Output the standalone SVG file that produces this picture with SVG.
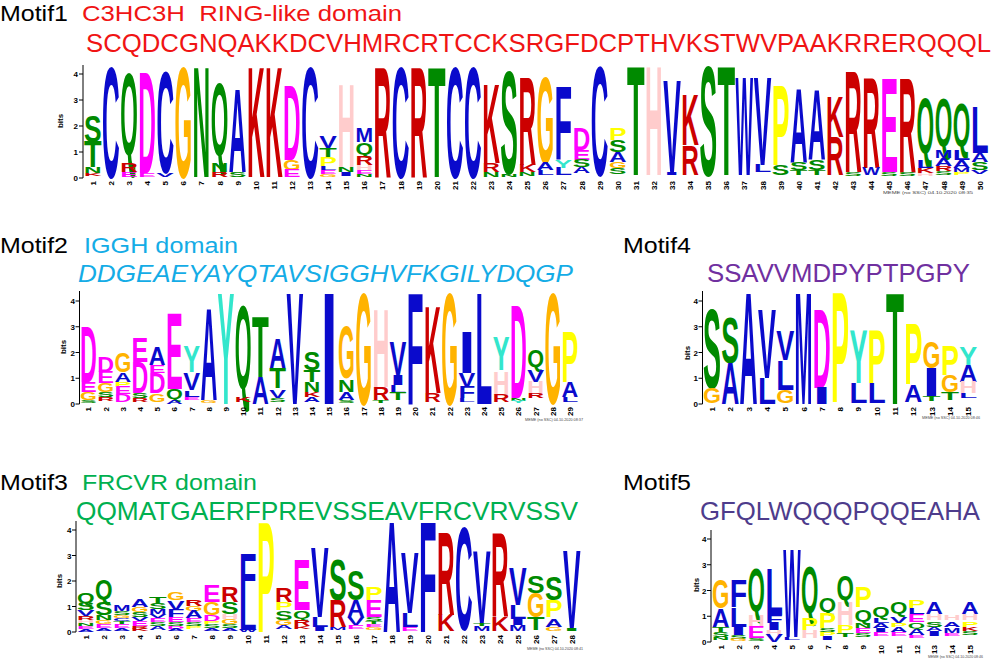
<svg xmlns="http://www.w3.org/2000/svg" width="1000" height="661" viewBox="0 0 1000 661">
<style>
text{font-family:"Liberation Sans",Arial,sans-serif}
.L text{font-weight:bold}
.b{fill:#0a0acc}.r{fill:#cc0000}.m{fill:#ff00ff}.g{fill:#008a00}.o{fill:#ffb300}.p{fill:#ffcccc}.y{fill:#ffff00}.c{fill:#33e6cc}
.h{font-size:22px;fill:#000}
.n text{font-size:8px;font-weight:bold;text-anchor:end;fill:#000}
.t{font-size:8px;font-weight:bold;text-anchor:end;fill:#000}
.bits{font-size:8px;font-weight:bold;text-anchor:middle;fill:#000}
.ax{stroke:#000;stroke-width:1;fill:none}
.meme{font-size:4px;fill:#444}
</style>
<rect width="1000" height="661" fill="#fff"/>

<g id="motif1">
<text class="h" x="0" y="21" textLength="68" lengthAdjust="spacingAndGlyphs">Motif1</text>
<text x="82" y="21" font-size="22" fill="#f01414" textLength="320" lengthAdjust="spacingAndGlyphs">C3HC3H&#160; RING-like domain</text>
<text x="86" y="52" font-size="25.5" fill="#f01414" textLength="905" lengthAdjust="spacingAndGlyphs">SCQDCGNQAKKDCVHMRCRTCCKSRGFDCPTHVKSTWVPAAKRRERQQQL</text>
<path class="ax" d="M83,65V178M79,178H83M79,152H83M79,126H83M79,100H83M79,74H83"/>
<text class="t" x="78" y="181">0</text><text class="t" x="78" y="155">1</text><text class="t" x="78" y="129">2</text><text class="t" x="78" y="103">3</text><text class="t" x="78" y="77">4</text>
<text class="bits" transform="translate(63,121) rotate(-90)">bits</text>
<g class="L">
<text class="g" x="84" y="142" font-size="36" textLength="17.6" lengthAdjust="spacingAndGlyphs">S</text>
<text class="g" x="84" y="167" font-size="36" textLength="17.6" lengthAdjust="spacingAndGlyphs">T</text>
<text class="g" x="84" y="173" font-size="8.6" textLength="17.6" lengthAdjust="spacingAndGlyphs">N</text>
<text class="r" x="84" y="176" font-size="4.3" textLength="17.6" lengthAdjust="spacingAndGlyphs">K</text>
<text class="b" x="102.1" y="177" font-size="158.4" textLength="17.6" lengthAdjust="spacingAndGlyphs">C</text>
<text class="g" x="120.2" y="155.4" font-size="116.2" textLength="17.6" lengthAdjust="spacingAndGlyphs">Q</text>
<text class="r" x="120.2" y="172" font-size="13" textLength="17.6" lengthAdjust="spacingAndGlyphs">R</text>
<text class="m" x="120.2" y="177" font-size="7.2" textLength="17.6" lengthAdjust="spacingAndGlyphs">E</text>
<text class="m" x="138.3" y="173" font-size="145.4" textLength="17.6" lengthAdjust="spacingAndGlyphs">D</text>
<text class="m" x="138.3" y="177" font-size="5.8" textLength="17.6" lengthAdjust="spacingAndGlyphs">E</text>
<text class="b" x="156.4" y="173" font-size="145.4" textLength="17.6" lengthAdjust="spacingAndGlyphs">C</text>
<text class="b" x="156.4" y="177" font-size="5.8" textLength="17.6" lengthAdjust="spacingAndGlyphs">V</text>
<text class="o" x="174.5" y="177" font-size="158.4" textLength="17.6" lengthAdjust="spacingAndGlyphs">G</text>
<text class="g" x="192.6" y="177" font-size="158.4" textLength="17.6" lengthAdjust="spacingAndGlyphs">N</text>
<text class="g" x="210.7" y="156.3" font-size="103" textLength="17.6" lengthAdjust="spacingAndGlyphs">Q</text>
<text class="g" x="210.7" y="172" font-size="13" textLength="17.6" lengthAdjust="spacingAndGlyphs">N</text>
<text class="r" x="210.7" y="177" font-size="7.2" textLength="17.6" lengthAdjust="spacingAndGlyphs">R</text>
<text class="b" x="228.8" y="172" font-size="118" textLength="17.6" lengthAdjust="spacingAndGlyphs">A</text>
<text class="g" x="228.8" y="177" font-size="7.2" textLength="17.6" lengthAdjust="spacingAndGlyphs">S</text>
<text class="r" x="246.9" y="177" font-size="158.4" textLength="17.6" lengthAdjust="spacingAndGlyphs">K</text>
<text class="r" x="265" y="177" font-size="158.4" textLength="17.6" lengthAdjust="spacingAndGlyphs">K</text>
<text class="m" x="283.1" y="160" font-size="108" textLength="17.6" lengthAdjust="spacingAndGlyphs">D</text>
<text class="o" x="283.1" y="170" font-size="14.4" textLength="17.6" lengthAdjust="spacingAndGlyphs">G</text>
<text class="m" x="283.1" y="177" font-size="10" textLength="17.6" lengthAdjust="spacingAndGlyphs">E</text>
<text class="b" x="301.2" y="177" font-size="158.4" textLength="17.6" lengthAdjust="spacingAndGlyphs">C</text>
<text class="b" x="319.3" y="148" font-size="15.8" textLength="17.6" lengthAdjust="spacingAndGlyphs">V</text>
<text class="g" x="319.3" y="157" font-size="13" textLength="17.6" lengthAdjust="spacingAndGlyphs">T</text>
<text class="y" x="319.3" y="166" font-size="13" textLength="17.6" lengthAdjust="spacingAndGlyphs">P</text>
<text class="b" x="319.3" y="170" font-size="5.8" textLength="17.6" lengthAdjust="spacingAndGlyphs">L</text>
<text class="m" x="319.3" y="174" font-size="5.8" textLength="17.6" lengthAdjust="spacingAndGlyphs">E</text>
<text class="o" x="319.3" y="177" font-size="4.3" textLength="17.6" lengthAdjust="spacingAndGlyphs">G</text>
<text class="p" x="337.4" y="167" font-size="118" textLength="17.6" lengthAdjust="spacingAndGlyphs">H</text>
<text class="g" x="337.4" y="172" font-size="7.2" textLength="17.6" lengthAdjust="spacingAndGlyphs">N</text>
<text class="b" x="337.4" y="176" font-size="5.8" textLength="17.6" lengthAdjust="spacingAndGlyphs">I</text>
<text class="b" x="355.5" y="142" font-size="20.2" textLength="17.6" lengthAdjust="spacingAndGlyphs">M</text>
<text class="g" x="355.5" y="155" font-size="16" textLength="17.6" lengthAdjust="spacingAndGlyphs">Q</text>
<text class="r" x="355.5" y="165" font-size="13" textLength="17.6" lengthAdjust="spacingAndGlyphs">R</text>
<text class="p" x="355.5" y="170" font-size="7.2" textLength="17.6" lengthAdjust="spacingAndGlyphs">H</text>
<text class="m" x="355.5" y="174" font-size="5.8" textLength="17.6" lengthAdjust="spacingAndGlyphs">E</text>
<text class="g" x="355.5" y="177" font-size="4.3" textLength="17.6" lengthAdjust="spacingAndGlyphs">N</text>
<text class="r" x="373.6" y="177" font-size="158.4" textLength="17.6" lengthAdjust="spacingAndGlyphs">R</text>
<text class="b" x="391.7" y="177" font-size="158.4" textLength="17.6" lengthAdjust="spacingAndGlyphs">C</text>
<text class="r" x="409.8" y="177" font-size="158.4" textLength="17.6" lengthAdjust="spacingAndGlyphs">R</text>
<text class="g" x="427.9" y="177" font-size="158.4" textLength="17.6" lengthAdjust="spacingAndGlyphs">T</text>
<text class="b" x="446" y="177" font-size="158.4" textLength="17.6" lengthAdjust="spacingAndGlyphs">C</text>
<text class="b" x="464.1" y="177" font-size="158.4" textLength="17.6" lengthAdjust="spacingAndGlyphs">C</text>
<text class="r" x="482.2" y="163" font-size="112.3" textLength="17.6" lengthAdjust="spacingAndGlyphs">K</text>
<text class="r" x="482.2" y="172" font-size="13" textLength="17.6" lengthAdjust="spacingAndGlyphs">R</text>
<text class="g" x="482.2" y="177" font-size="7.2" textLength="17.6" lengthAdjust="spacingAndGlyphs">N</text>
<text class="g" x="500.3" y="174" font-size="146.9" textLength="17.6" lengthAdjust="spacingAndGlyphs">S</text>
<text class="g" x="500.3" y="177" font-size="4.3" textLength="17.6" lengthAdjust="spacingAndGlyphs">N</text>
<text class="r" x="518.4" y="165" font-size="125.3" textLength="17.6" lengthAdjust="spacingAndGlyphs">R</text>
<text class="r" x="518.4" y="172" font-size="10" textLength="17.6" lengthAdjust="spacingAndGlyphs">K</text>
<text class="g" x="518.4" y="176" font-size="5.8" textLength="17.6" lengthAdjust="spacingAndGlyphs">N</text>
<text class="o" x="536.5" y="163" font-size="122.4" textLength="17.6" lengthAdjust="spacingAndGlyphs">G</text>
<text class="b" x="536.5" y="170" font-size="10" textLength="17.6" lengthAdjust="spacingAndGlyphs">A</text>
<text class="b" x="536.5" y="175" font-size="7.2" textLength="17.6" lengthAdjust="spacingAndGlyphs">L</text>
<text class="b" x="554.6" y="160" font-size="105.1" textLength="17.6" lengthAdjust="spacingAndGlyphs">F</text>
<text class="c" x="554.6" y="168" font-size="11.5" textLength="17.6" lengthAdjust="spacingAndGlyphs">Y</text>
<text class="b" x="554.6" y="175" font-size="10" textLength="17.6" lengthAdjust="spacingAndGlyphs">L</text>
<text class="m" x="572.7" y="150" font-size="31.7" textLength="17.6" lengthAdjust="spacingAndGlyphs">D</text>
<text class="m" x="572.7" y="160" font-size="14.4" textLength="17.6" lengthAdjust="spacingAndGlyphs">E</text>
<text class="g" x="572.7" y="167" font-size="10" textLength="17.6" lengthAdjust="spacingAndGlyphs">S</text>
<text class="b" x="572.7" y="173" font-size="8.6" textLength="17.6" lengthAdjust="spacingAndGlyphs">A</text>
<text class="b" x="590.8" y="175" font-size="155.5" textLength="17.6" lengthAdjust="spacingAndGlyphs">C</text>
<text class="y" x="608.9" y="140" font-size="17.3" textLength="17.6" lengthAdjust="spacingAndGlyphs">P</text>
<text class="g" x="608.9" y="152" font-size="17.3" textLength="17.6" lengthAdjust="spacingAndGlyphs">S</text>
<text class="b" x="608.9" y="162" font-size="14.4" textLength="17.6" lengthAdjust="spacingAndGlyphs">A</text>
<text class="o" x="608.9" y="168" font-size="8.6" textLength="17.6" lengthAdjust="spacingAndGlyphs">G</text>
<text class="g" x="608.9" y="174" font-size="8.6" textLength="17.6" lengthAdjust="spacingAndGlyphs">S</text>
<text class="g" x="627" y="175" font-size="155.5" textLength="17.6" lengthAdjust="spacingAndGlyphs">T</text>
<text class="p" x="645.1" y="175" font-size="155.5" textLength="17.6" lengthAdjust="spacingAndGlyphs">H</text>
<text class="b" x="663.2" y="172" font-size="132.5" textLength="17.6" lengthAdjust="spacingAndGlyphs">V</text>
<text class="b" x="663.2" y="175" font-size="4.3" textLength="17.6" lengthAdjust="spacingAndGlyphs">I</text>
<text class="r" x="681.3" y="145" font-size="72" textLength="17.6" lengthAdjust="spacingAndGlyphs">K</text>
<text class="r" x="681.3" y="175" font-size="43.2" textLength="17.6" lengthAdjust="spacingAndGlyphs">R</text>
<text class="g" x="699.4" y="175" font-size="155.5" textLength="17.6" lengthAdjust="spacingAndGlyphs">S</text>
<text class="g" x="717.5" y="175" font-size="155.5" textLength="17.6" lengthAdjust="spacingAndGlyphs">T</text>
<text class="b" x="735.6" y="175" font-size="141.1" textLength="17.6" lengthAdjust="spacingAndGlyphs">W</text>
<text class="b" x="753.7" y="165" font-size="125.3" textLength="17.6" lengthAdjust="spacingAndGlyphs">V</text>
<text class="b" x="753.7" y="172" font-size="10" textLength="17.6" lengthAdjust="spacingAndGlyphs">L</text>
<text class="y" x="771.8" y="165" font-size="115.2" textLength="17.6" lengthAdjust="spacingAndGlyphs">P</text>
<text class="g" x="771.8" y="175" font-size="14.4" textLength="17.6" lengthAdjust="spacingAndGlyphs">S</text>
<text class="b" x="789.9" y="163" font-size="105.1" textLength="17.6" lengthAdjust="spacingAndGlyphs">A</text>
<text class="g" x="789.9" y="170" font-size="10" textLength="17.6" lengthAdjust="spacingAndGlyphs">S</text>
<text class="g" x="789.9" y="175" font-size="7.2" textLength="17.6" lengthAdjust="spacingAndGlyphs">T</text>
<text class="b" x="808" y="160" font-size="100.8" textLength="17.6" lengthAdjust="spacingAndGlyphs">A</text>
<text class="g" x="808" y="170" font-size="14.4" textLength="17.6" lengthAdjust="spacingAndGlyphs">S</text>
<text class="g" x="808" y="175" font-size="7.2" textLength="17.6" lengthAdjust="spacingAndGlyphs">T</text>
<text class="r" x="826.1" y="137" font-size="57.6" textLength="17.6" lengthAdjust="spacingAndGlyphs">K</text>
<text class="r" x="826.1" y="175" font-size="54.7" textLength="17.6" lengthAdjust="spacingAndGlyphs">R</text>
<text class="r" x="844.2" y="172" font-size="144" textLength="17.6" lengthAdjust="spacingAndGlyphs">R</text>
<text class="g" x="844.2" y="176" font-size="5.8" textLength="17.6" lengthAdjust="spacingAndGlyphs">S</text>
<text class="r" x="862.3" y="168" font-size="129.6" textLength="17.6" lengthAdjust="spacingAndGlyphs">R</text>
<text class="b" x="862.3" y="175" font-size="10" textLength="17.6" lengthAdjust="spacingAndGlyphs">W</text>
<text class="m" x="880.4" y="172" font-size="135.4" textLength="17.6" lengthAdjust="spacingAndGlyphs">E</text>
<text class="g" x="880.4" y="176" font-size="5.8" textLength="17.6" lengthAdjust="spacingAndGlyphs">S</text>
<text class="r" x="898.5" y="172" font-size="135.4" textLength="17.6" lengthAdjust="spacingAndGlyphs">R</text>
<text class="g" x="898.5" y="176" font-size="5.8" textLength="17.6" lengthAdjust="spacingAndGlyphs">S</text>
<text class="g" x="916.6" y="152.8" font-size="80.5" textLength="17.6" lengthAdjust="spacingAndGlyphs">Q</text>
<text class="b" x="916.6" y="168" font-size="11.5" textLength="17.6" lengthAdjust="spacingAndGlyphs">L</text>
<text class="r" x="916.6" y="173" font-size="7.2" textLength="17.6" lengthAdjust="spacingAndGlyphs">K</text>
<text class="p" x="916.6" y="176" font-size="4.3" textLength="17.6" lengthAdjust="spacingAndGlyphs">H</text>
<text class="g" x="934.7" y="145.5" font-size="68.6" textLength="17.6" lengthAdjust="spacingAndGlyphs">Q</text>
<text class="b" x="934.7" y="158" font-size="11.5" textLength="17.6" lengthAdjust="spacingAndGlyphs">M</text>
<text class="b" x="934.7" y="166" font-size="11.5" textLength="17.6" lengthAdjust="spacingAndGlyphs">A</text>
<text class="r" x="934.7" y="171" font-size="7.2" textLength="17.6" lengthAdjust="spacingAndGlyphs">R</text>
<text class="g" x="934.7" y="175" font-size="5.8" textLength="17.6" lengthAdjust="spacingAndGlyphs">S</text>
<text class="g" x="952.8" y="146" font-size="62" textLength="17.6" lengthAdjust="spacingAndGlyphs">Q</text>
<text class="b" x="952.8" y="160" font-size="14.4" textLength="17.6" lengthAdjust="spacingAndGlyphs">L</text>
<text class="b" x="952.8" y="168" font-size="11.5" textLength="17.6" lengthAdjust="spacingAndGlyphs">A</text>
<text class="b" x="952.8" y="172" font-size="5.8" textLength="17.6" lengthAdjust="spacingAndGlyphs">M</text>
<text class="y" x="952.8" y="175" font-size="4.3" textLength="17.6" lengthAdjust="spacingAndGlyphs">P</text>
<text class="b" x="970.9" y="153" font-size="66.2" textLength="17.6" lengthAdjust="spacingAndGlyphs">L</text>
<text class="b" x="970.9" y="162" font-size="13" textLength="17.6" lengthAdjust="spacingAndGlyphs">A</text>
<text class="g" x="970.9" y="170" font-size="11.5" textLength="17.6" lengthAdjust="spacingAndGlyphs">S</text>
<text class="b" x="970.9" y="174" font-size="5.8" textLength="17.6" lengthAdjust="spacingAndGlyphs">V</text>
</g>
<g class="n" transform="rotate(-90)">
<text x="-181" y="95.8">1</text><text x="-181" y="113.9">2</text><text x="-181" y="132">3</text><text x="-181" y="150.1">4</text><text x="-181" y="168.2">5</text><text x="-181" y="186.3">6</text><text x="-181" y="204.4">7</text><text x="-181" y="222.5">8</text><text x="-181" y="240.6">9</text><text x="-181" y="258.7">10</text><text x="-181" y="276.8">11</text><text x="-181" y="294.9">12</text><text x="-181" y="313">13</text><text x="-181" y="331.1">14</text><text x="-181" y="349.2">15</text><text x="-181" y="367.3">16</text><text x="-181" y="385.4">17</text><text x="-181" y="403.5">18</text><text x="-181" y="421.6">19</text><text x="-181" y="439.7">20</text><text x="-181" y="457.8">21</text><text x="-181" y="475.9">22</text><text x="-181" y="494">23</text><text x="-181" y="512.1">24</text><text x="-181" y="530.2">25</text><text x="-181" y="548.3">26</text><text x="-181" y="566.4">27</text><text x="-181" y="584.5">28</text><text x="-181" y="602.6">29</text><text x="-181" y="620.7">30</text><text x="-181" y="638.8">31</text><text x="-181" y="656.9">32</text><text x="-181" y="675">33</text><text x="-181" y="693.1">34</text><text x="-181" y="711.2">35</text><text x="-181" y="729.3">36</text><text x="-181" y="747.4">37</text><text x="-181" y="765.5">38</text><text x="-181" y="783.6">39</text><text x="-181" y="801.7">40</text><text x="-181" y="819.8">41</text><text x="-181" y="837.9">42</text><text x="-181" y="856">43</text><text x="-181" y="874.1">44</text><text x="-181" y="892.2">45</text><text x="-181" y="910.3">46</text><text x="-181" y="928.4">47</text><text x="-181" y="946.5">48</text><text x="-181" y="964.6">49</text><text x="-181" y="982.7">50</text>
</g>
<text class="meme" x="883" y="194" textLength="90" lengthAdjust="spacingAndGlyphs">MEME (no SSC) 04.10.2020 08:35</text>
</g>

<g id="motif2">
<text class="h" x="0" y="253" textLength="68" lengthAdjust="spacingAndGlyphs">Motif2</text>
<text x="84" y="253" font-size="22" fill="#14ace6" textLength="154" lengthAdjust="spacingAndGlyphs">IGGH domain</text>
<text x="78" y="282" font-size="24" font-style="italic" fill="#14ace6" textLength="495" lengthAdjust="spacingAndGlyphs">DDGEAEYAYQTAVSIGGHVFKGILYDQGP</text>
<path class="ax" d="M79.5,291V404M75.5,404H79.5M75.5,378.25H79.5M75.5,352.5H79.5M75.5,326.75H79.5M75.5,301H79.5"/>
<text class="t" x="75" y="407">0</text><text class="t" x="75" y="381">1</text><text class="t" x="75" y="355.5">2</text><text class="t" x="75" y="330">3</text><text class="t" x="75" y="304">4</text>
<text class="bits" transform="translate(66,347) rotate(-90)">bits</text>
<g class="L">
<text class="m" x="80" y="382" font-size="79.2" textLength="16.8" lengthAdjust="spacingAndGlyphs">D</text>
<text class="m" x="80" y="392" font-size="14.4" textLength="16.8" lengthAdjust="spacingAndGlyphs">E</text>
<text class="o" x="80" y="400" font-size="11.5" textLength="16.8" lengthAdjust="spacingAndGlyphs">G</text>
<text class="g" x="80" y="403" font-size="4.3" textLength="16.8" lengthAdjust="spacingAndGlyphs">S</text>
<text class="m" x="97.2" y="372" font-size="21.6" textLength="16.8" lengthAdjust="spacingAndGlyphs">D</text>
<text class="m" x="97.2" y="383" font-size="15.8" textLength="16.8" lengthAdjust="spacingAndGlyphs">E</text>
<text class="o" x="97.2" y="392" font-size="13" textLength="16.8" lengthAdjust="spacingAndGlyphs">G</text>
<text class="g" x="97.2" y="397" font-size="7.2" textLength="16.8" lengthAdjust="spacingAndGlyphs">S</text>
<text class="r" x="97.2" y="401" font-size="5.8" textLength="16.8" lengthAdjust="spacingAndGlyphs">R</text>
<text class="o" x="114.4" y="372" font-size="27.4" textLength="16.8" lengthAdjust="spacingAndGlyphs">G</text>
<text class="b" x="114.4" y="382" font-size="13" textLength="16.8" lengthAdjust="spacingAndGlyphs">A</text>
<text class="y" x="114.4" y="387" font-size="7.2" textLength="16.8" lengthAdjust="spacingAndGlyphs">P</text>
<text class="m" x="114.4" y="394" font-size="10" textLength="16.8" lengthAdjust="spacingAndGlyphs">E</text>
<text class="m" x="114.4" y="402" font-size="10" textLength="16.8" lengthAdjust="spacingAndGlyphs">D</text>
<text class="m" x="131.6" y="362" font-size="34.6" textLength="16.8" lengthAdjust="spacingAndGlyphs">E</text>
<text class="m" x="131.6" y="393" font-size="44.6" textLength="16.8" lengthAdjust="spacingAndGlyphs">D</text>
<text class="g" x="131.6" y="398" font-size="7.2" textLength="16.8" lengthAdjust="spacingAndGlyphs">S</text>
<text class="r" x="131.6" y="402" font-size="5.8" textLength="16.8" lengthAdjust="spacingAndGlyphs">R</text>
<text class="b" x="148.8" y="365" font-size="25.9" textLength="16.8" lengthAdjust="spacingAndGlyphs">A</text>
<text class="m" x="148.8" y="373" font-size="11.5" textLength="16.8" lengthAdjust="spacingAndGlyphs">E</text>
<text class="m" x="148.8" y="393" font-size="28.8" textLength="16.8" lengthAdjust="spacingAndGlyphs">D</text>
<text class="o" x="148.8" y="402" font-size="10" textLength="16.8" lengthAdjust="spacingAndGlyphs">G</text>
<text class="m" x="166" y="389" font-size="109.4" textLength="16.8" lengthAdjust="spacingAndGlyphs">E</text>
<text class="g" x="166" y="399" font-size="14" textLength="16.8" lengthAdjust="spacingAndGlyphs">Q</text>
<text class="b" x="166" y="404" font-size="5.8" textLength="16.8" lengthAdjust="spacingAndGlyphs">A</text>
<text class="c" x="183.2" y="372" font-size="36" textLength="16.8" lengthAdjust="spacingAndGlyphs">Y</text>
<text class="b" x="183.2" y="390" font-size="24.5" textLength="16.8" lengthAdjust="spacingAndGlyphs">V</text>
<text class="b" x="183.2" y="397" font-size="8.6" textLength="16.8" lengthAdjust="spacingAndGlyphs">L</text>
<text class="m" x="183.2" y="400" font-size="4.3" textLength="16.8" lengthAdjust="spacingAndGlyphs">E</text>
<text class="b" x="200.4" y="400" font-size="132.5" textLength="16.8" lengthAdjust="spacingAndGlyphs">A</text>
<text class="o" x="200.4" y="403" font-size="4.3" textLength="16.8" lengthAdjust="spacingAndGlyphs">G</text>
<text class="c" x="217.6" y="404" font-size="159.8" textLength="16.8" lengthAdjust="spacingAndGlyphs">Y</text>
<text class="g" x="234.8" y="389.3" font-size="118.8" textLength="16.8" lengthAdjust="spacingAndGlyphs">Q</text>
<text class="r" x="234.8" y="402" font-size="7.2" textLength="16.8" lengthAdjust="spacingAndGlyphs">K</text>
<text class="g" x="252" y="377" font-size="86.4" textLength="16.8" lengthAdjust="spacingAndGlyphs">T</text>
<text class="b" x="252" y="404" font-size="38.9" textLength="16.8" lengthAdjust="spacingAndGlyphs">A</text>
<text class="b" x="269.2" y="368" font-size="43.2" textLength="16.8" lengthAdjust="spacingAndGlyphs">A</text>
<text class="g" x="269.2" y="388" font-size="28.8" textLength="16.8" lengthAdjust="spacingAndGlyphs">T</text>
<text class="b" x="269.2" y="398" font-size="11.5" textLength="16.8" lengthAdjust="spacingAndGlyphs">V</text>
<text class="g" x="269.2" y="402" font-size="5.8" textLength="16.8" lengthAdjust="spacingAndGlyphs">S</text>
<text class="b" x="286.4" y="404" font-size="159.8" textLength="16.8" lengthAdjust="spacingAndGlyphs">V</text>
<text class="g" x="303.6" y="370" font-size="25.9" textLength="16.8" lengthAdjust="spacingAndGlyphs">S</text>
<text class="g" x="303.6" y="382" font-size="17.3" textLength="16.8" lengthAdjust="spacingAndGlyphs">T</text>
<text class="g" x="303.6" y="392" font-size="14.4" textLength="16.8" lengthAdjust="spacingAndGlyphs">N</text>
<text class="r" x="303.6" y="397" font-size="7.2" textLength="16.8" lengthAdjust="spacingAndGlyphs">K</text>
<text class="b" x="303.6" y="402" font-size="7.2" textLength="16.8" lengthAdjust="spacingAndGlyphs">A</text>
<text class="b" x="320.8" y="404" font-size="159.8" textLength="16.8" lengthAdjust="spacingAndGlyphs">I</text>
<text class="o" x="338" y="378" font-size="73.4" textLength="16.8" lengthAdjust="spacingAndGlyphs">G</text>
<text class="g" x="338" y="392" font-size="17.3" textLength="16.8" lengthAdjust="spacingAndGlyphs">N</text>
<text class="b" x="338" y="400" font-size="11.5" textLength="16.8" lengthAdjust="spacingAndGlyphs">A</text>
<text class="g" x="338" y="403" font-size="4.3" textLength="16.8" lengthAdjust="spacingAndGlyphs">S</text>
<text class="o" x="355.2" y="404" font-size="159.8" textLength="16.8" lengthAdjust="spacingAndGlyphs">G</text>
<text class="p" x="372.4" y="387" font-size="110.9" textLength="16.8" lengthAdjust="spacingAndGlyphs">H</text>
<text class="r" x="372.4" y="400" font-size="18.7" textLength="16.8" lengthAdjust="spacingAndGlyphs">R</text>
<text class="g" x="372.4" y="403" font-size="4.3" textLength="16.8" lengthAdjust="spacingAndGlyphs">T</text>
<text class="b" x="389.6" y="375" font-size="47.5" textLength="16.8" lengthAdjust="spacingAndGlyphs">V</text>
<text class="b" x="389.6" y="385" font-size="14.4" textLength="16.8" lengthAdjust="spacingAndGlyphs">I</text>
<text class="b" x="389.6" y="393" font-size="11.5" textLength="16.8" lengthAdjust="spacingAndGlyphs">L</text>
<text class="g" x="389.6" y="400" font-size="10" textLength="16.8" lengthAdjust="spacingAndGlyphs">T</text>
<text class="b" x="406.8" y="404" font-size="159.8" textLength="16.8" lengthAdjust="spacingAndGlyphs">F</text>
<text class="r" x="424" y="393" font-size="123.8" textLength="16.8" lengthAdjust="spacingAndGlyphs">K</text>
<text class="r" x="424" y="402" font-size="13" textLength="16.8" lengthAdjust="spacingAndGlyphs">R</text>
<text class="o" x="441.2" y="404" font-size="159.8" textLength="16.8" lengthAdjust="spacingAndGlyphs">G</text>
<text class="b" x="458.4" y="373" font-size="59" textLength="16.8" lengthAdjust="spacingAndGlyphs">I</text>
<text class="b" x="458.4" y="387" font-size="20.2" textLength="16.8" lengthAdjust="spacingAndGlyphs">V</text>
<text class="b" x="458.4" y="398" font-size="15.8" textLength="16.8" lengthAdjust="spacingAndGlyphs">F</text>
<text class="b" x="458.4" y="402" font-size="5.8" textLength="16.8" lengthAdjust="spacingAndGlyphs">L</text>
<text class="b" x="475.6" y="404" font-size="159.8" textLength="16.8" lengthAdjust="spacingAndGlyphs">L</text>
<text class="c" x="492.8" y="370" font-size="47.5" textLength="16.8" lengthAdjust="spacingAndGlyphs">Y</text>
<text class="p" x="492.8" y="395" font-size="33.1" textLength="16.8" lengthAdjust="spacingAndGlyphs">H</text>
<text class="r" x="492.8" y="402" font-size="10" textLength="16.8" lengthAdjust="spacingAndGlyphs">R</text>
<text class="m" x="510" y="398" font-size="133.9" textLength="16.8" lengthAdjust="spacingAndGlyphs">D</text>
<text class="g" x="510" y="401" font-size="4.3" textLength="16.8" lengthAdjust="spacingAndGlyphs">N</text>
<text class="c" x="510" y="403" font-size="2.9" textLength="16.8" lengthAdjust="spacingAndGlyphs">Y</text>
<text class="g" x="527.2" y="366.5" font-size="23.8" textLength="16.8" lengthAdjust="spacingAndGlyphs">Q</text>
<text class="b" x="527.2" y="382" font-size="17.3" textLength="16.8" lengthAdjust="spacingAndGlyphs">V</text>
<text class="p" x="527.2" y="393" font-size="15.8" textLength="16.8" lengthAdjust="spacingAndGlyphs">H</text>
<text class="r" x="527.2" y="398" font-size="7.2" textLength="16.8" lengthAdjust="spacingAndGlyphs">R</text>
<text class="o" x="544.4" y="403" font-size="158.4" textLength="16.8" lengthAdjust="spacingAndGlyphs">G</text>
<text class="y" x="561.6" y="382" font-size="72" textLength="16.8" lengthAdjust="spacingAndGlyphs">P</text>
<text class="b" x="561.6" y="397" font-size="21.6" textLength="16.8" lengthAdjust="spacingAndGlyphs">A</text>
<text class="b" x="561.6" y="402" font-size="7.2" textLength="16.8" lengthAdjust="spacingAndGlyphs">L</text>
</g>
<g class="n" transform="rotate(-90)">
<text x="-407" y="91.4">1</text><text x="-407" y="108.6">2</text><text x="-407" y="125.8">3</text><text x="-407" y="143">4</text><text x="-407" y="160.2">5</text><text x="-407" y="177.4">6</text><text x="-407" y="194.6">7</text><text x="-407" y="211.8">8</text><text x="-407" y="229">9</text><text x="-407" y="246.2">10</text><text x="-407" y="263.4">11</text><text x="-407" y="280.6">12</text><text x="-407" y="297.8">13</text><text x="-407" y="315">14</text><text x="-407" y="332.2">15</text><text x="-407" y="349.4">16</text><text x="-407" y="366.6">17</text><text x="-407" y="383.8">18</text><text x="-407" y="401">19</text><text x="-407" y="418.2">20</text><text x="-407" y="435.4">21</text><text x="-407" y="452.6">22</text><text x="-407" y="469.8">23</text><text x="-407" y="487">24</text><text x="-407" y="504.2">25</text><text x="-407" y="521.4">26</text><text x="-407" y="538.6">27</text><text x="-407" y="555.8">28</text><text x="-407" y="573">29</text>
</g>
<text class="meme" x="525" y="421" textLength="58" lengthAdjust="spacingAndGlyphs">MEME (no SSC) 04.10.2020 08:37</text>
</g>

<g id="motif4">
<text class="h" x="623" y="253" textLength="68" lengthAdjust="spacingAndGlyphs">Motif4</text>
<text x="707" y="282" font-size="25.5" fill="#7030a0" textLength="263" lengthAdjust="spacingAndGlyphs">SSAVVMDPYPTPGPY</text>
<path class="ax" d="M702.5,291V404M698.5,404H702.5M698.5,378.25H702.5M698.5,352.5H702.5M698.5,326.75H702.5M698.5,301H702.5"/>
<text class="t" x="698" y="407">0</text><text class="t" x="698" y="381">1</text><text class="t" x="698" y="355.5">2</text><text class="t" x="698" y="330">3</text><text class="t" x="698" y="304">4</text>
<text class="bits" transform="translate(690,353) rotate(-90)">bits</text>
<g class="L">
<text class="g" x="703" y="388" font-size="112.3" textLength="18" lengthAdjust="spacingAndGlyphs">S</text>
<text class="o" x="703" y="403" font-size="21.6" textLength="18" lengthAdjust="spacingAndGlyphs">G</text>
<text class="g" x="721.3" y="363" font-size="64.8" textLength="18" lengthAdjust="spacingAndGlyphs">S</text>
<text class="b" x="721.3" y="404" font-size="59" textLength="18" lengthAdjust="spacingAndGlyphs">A</text>
<text class="b" x="739.6" y="404" font-size="159.8" textLength="18" lengthAdjust="spacingAndGlyphs">A</text>
<text class="b" x="757.9" y="378" font-size="97.9" textLength="18" lengthAdjust="spacingAndGlyphs">V</text>
<text class="b" x="757.9" y="404" font-size="37.4" textLength="18" lengthAdjust="spacingAndGlyphs">L</text>
<text class="b" x="776.2" y="360" font-size="43.2" textLength="18" lengthAdjust="spacingAndGlyphs">V</text>
<text class="b" x="776.2" y="390" font-size="43.2" textLength="18" lengthAdjust="spacingAndGlyphs">L</text>
<text class="o" x="776.2" y="403" font-size="18.7" textLength="18" lengthAdjust="spacingAndGlyphs">G</text>
<text class="b" x="794.5" y="404" font-size="159.8" textLength="18" lengthAdjust="spacingAndGlyphs">M</text>
<text class="m" x="812.8" y="388" font-size="112.3" textLength="18" lengthAdjust="spacingAndGlyphs">D</text>
<text class="b" x="812.8" y="404" font-size="23" textLength="18" lengthAdjust="spacingAndGlyphs">I</text>
<text class="y" x="831.1" y="402" font-size="157" textLength="18" lengthAdjust="spacingAndGlyphs">P</text>
<text class="c" x="849.4" y="383" font-size="76.3" textLength="18" lengthAdjust="spacingAndGlyphs">Y</text>
<text class="b" x="849.4" y="403" font-size="28.8" textLength="18" lengthAdjust="spacingAndGlyphs">L</text>
<text class="y" x="867.7" y="383" font-size="76.3" textLength="18" lengthAdjust="spacingAndGlyphs">P</text>
<text class="b" x="867.7" y="403" font-size="28.8" textLength="18" lengthAdjust="spacingAndGlyphs">L</text>
<text class="g" x="886" y="404" font-size="159.8" textLength="18" lengthAdjust="spacingAndGlyphs">T</text>
<text class="y" x="904.3" y="384" font-size="87.8" textLength="18" lengthAdjust="spacingAndGlyphs">P</text>
<text class="b" x="904.3" y="402" font-size="24.5" textLength="18" lengthAdjust="spacingAndGlyphs">A</text>
<text class="o" x="922.6" y="368" font-size="37.4" textLength="18" lengthAdjust="spacingAndGlyphs">G</text>
<text class="b" x="922.6" y="396" font-size="40.3" textLength="18" lengthAdjust="spacingAndGlyphs">I</text>
<text class="g" x="922.6" y="401" font-size="7.2" textLength="18" lengthAdjust="spacingAndGlyphs">T</text>
<text class="y" x="940.9" y="375" font-size="43.2" textLength="18" lengthAdjust="spacingAndGlyphs">P</text>
<text class="o" x="940.9" y="392" font-size="24.5" textLength="18" lengthAdjust="spacingAndGlyphs">G</text>
<text class="g" x="940.9" y="400" font-size="11.5" textLength="18" lengthAdjust="spacingAndGlyphs">T</text>
<text class="c" x="959.2" y="366" font-size="27.4" textLength="18" lengthAdjust="spacingAndGlyphs">Y</text>
<text class="b" x="959.2" y="382" font-size="23" textLength="18" lengthAdjust="spacingAndGlyphs">A</text>
<text class="p" x="959.2" y="393" font-size="15.8" textLength="18" lengthAdjust="spacingAndGlyphs">H</text>
<text class="b" x="959.2" y="398" font-size="7.2" textLength="18" lengthAdjust="spacingAndGlyphs">L</text>
</g>
<g class="n" transform="rotate(-90)">
<text x="-407" y="715">1</text><text x="-407" y="733.3">2</text><text x="-407" y="751.6">3</text><text x="-407" y="769.9">4</text><text x="-407" y="788.2">5</text><text x="-407" y="806.5">6</text><text x="-407" y="824.8">7</text><text x="-407" y="843.1">8</text><text x="-407" y="861.4">9</text><text x="-407" y="879.7">10</text><text x="-407" y="898">11</text><text x="-407" y="916.3">12</text><text x="-407" y="934.6">13</text><text x="-407" y="952.9">14</text><text x="-407" y="971.2">15</text>
</g>
<text class="meme" x="922" y="419" textLength="58" lengthAdjust="spacingAndGlyphs">MEME (no SSC) 04.10.2020 08:46</text>
</g>

<g id="motif3">
<text class="h" x="0" y="490" textLength="68" lengthAdjust="spacingAndGlyphs">Motif3</text>
<text x="82" y="490" font-size="22" fill="#00b050" textLength="175" lengthAdjust="spacingAndGlyphs">FRCVR domain</text>
<text x="76" y="520" font-size="25" fill="#00b050" textLength="502" lengthAdjust="spacingAndGlyphs">QQMATGAERFPREVSSEAVFRCVRVSSV</text>
<path class="ax" d="M76,521V632M72,632H76M72,606.5H76M72,581H76M72,555.5H76M72,530H76"/>
<text class="t" x="71.5" y="635">0</text><text class="t" x="71.5" y="609.5">1</text><text class="t" x="71.5" y="584">2</text><text class="t" x="71.5" y="558.5">3</text><text class="t" x="71.5" y="533">4</text>
<text class="bits" transform="translate(62,581) rotate(-90)">bits</text>
<g class="L">
<text class="g" x="77" y="603" font-size="14.4" textLength="17.6" lengthAdjust="spacingAndGlyphs">Q</text>
<text class="g" x="77" y="610" font-size="10" textLength="17.6" lengthAdjust="spacingAndGlyphs">S</text>
<text class="b" x="77" y="616" font-size="8.6" textLength="17.6" lengthAdjust="spacingAndGlyphs">V</text>
<text class="r" x="77" y="620" font-size="5.8" textLength="17.6" lengthAdjust="spacingAndGlyphs">R</text>
<text class="p" x="77" y="623" font-size="4.3" textLength="17.6" lengthAdjust="spacingAndGlyphs">H</text>
<text class="g" x="77" y="626" font-size="4.3" textLength="17.6" lengthAdjust="spacingAndGlyphs">N</text>
<text class="m" x="77" y="629" font-size="4.3" textLength="17.6" lengthAdjust="spacingAndGlyphs">E</text>
<text class="b" x="77" y="632" font-size="4.3" textLength="17.6" lengthAdjust="spacingAndGlyphs">A</text>
<text class="g" x="95" y="599.2" font-size="27.7" textLength="17.6" lengthAdjust="spacingAndGlyphs">Q</text>
<text class="g" x="95" y="615" font-size="18.7" textLength="17.6" lengthAdjust="spacingAndGlyphs">S</text>
<text class="g" x="95" y="620" font-size="7.2" textLength="17.6" lengthAdjust="spacingAndGlyphs">N</text>
<text class="o" x="95" y="624" font-size="5.8" textLength="17.6" lengthAdjust="spacingAndGlyphs">G</text>
<text class="m" x="95" y="628" font-size="5.8" textLength="17.6" lengthAdjust="spacingAndGlyphs">E</text>
<text class="b" x="95" y="631" font-size="4.3" textLength="17.6" lengthAdjust="spacingAndGlyphs">A</text>
<text class="b" x="113" y="611" font-size="8.6" textLength="17.6" lengthAdjust="spacingAndGlyphs">M</text>
<text class="g" x="113" y="615" font-size="5.8" textLength="17.6" lengthAdjust="spacingAndGlyphs">S</text>
<text class="o" x="113" y="618" font-size="4.3" textLength="17.6" lengthAdjust="spacingAndGlyphs">G</text>
<text class="b" x="113" y="621" font-size="4.3" textLength="17.6" lengthAdjust="spacingAndGlyphs">C</text>
<text class="g" x="113" y="624" font-size="4.3" textLength="17.6" lengthAdjust="spacingAndGlyphs">T</text>
<text class="m" x="113" y="628" font-size="5.8" textLength="17.6" lengthAdjust="spacingAndGlyphs">E</text>
<text class="b" x="113" y="631" font-size="4.3" textLength="17.6" lengthAdjust="spacingAndGlyphs">A</text>
<text class="b" x="131" y="607" font-size="10" textLength="17.6" lengthAdjust="spacingAndGlyphs">A</text>
<text class="o" x="131" y="612" font-size="7.2" textLength="17.6" lengthAdjust="spacingAndGlyphs">G</text>
<text class="g" x="131" y="617" font-size="7.2" textLength="17.6" lengthAdjust="spacingAndGlyphs">S</text>
<text class="b" x="131" y="621" font-size="5.8" textLength="17.6" lengthAdjust="spacingAndGlyphs">V</text>
<text class="m" x="131" y="626" font-size="7.2" textLength="17.6" lengthAdjust="spacingAndGlyphs">E</text>
<text class="r" x="131" y="629" font-size="4.3" textLength="17.6" lengthAdjust="spacingAndGlyphs">R</text>
<text class="r" x="131" y="631" font-size="2.9" textLength="17.6" lengthAdjust="spacingAndGlyphs">K</text>
<text class="g" x="149" y="603" font-size="8.6" textLength="17.6" lengthAdjust="spacingAndGlyphs">T</text>
<text class="g" x="149" y="609" font-size="8.6" textLength="17.6" lengthAdjust="spacingAndGlyphs">S</text>
<text class="b" x="149" y="614" font-size="7.2" textLength="17.6" lengthAdjust="spacingAndGlyphs">M</text>
<text class="b" x="149" y="618" font-size="5.8" textLength="17.6" lengthAdjust="spacingAndGlyphs">V</text>
<text class="m" x="149" y="622" font-size="5.8" textLength="17.6" lengthAdjust="spacingAndGlyphs">E</text>
<text class="g" x="149" y="626" font-size="5.8" textLength="17.6" lengthAdjust="spacingAndGlyphs">S</text>
<text class="b" x="149" y="630" font-size="5.8" textLength="17.6" lengthAdjust="spacingAndGlyphs">A</text>
<text class="o" x="167" y="600" font-size="11.5" textLength="17.6" lengthAdjust="spacingAndGlyphs">G</text>
<text class="b" x="167" y="610" font-size="13" textLength="17.6" lengthAdjust="spacingAndGlyphs">V</text>
<text class="b" x="167" y="617" font-size="10" textLength="17.6" lengthAdjust="spacingAndGlyphs">F</text>
<text class="m" x="167" y="622" font-size="7.2" textLength="17.6" lengthAdjust="spacingAndGlyphs">E</text>
<text class="g" x="167" y="626" font-size="5.8" textLength="17.6" lengthAdjust="spacingAndGlyphs">S</text>
<text class="m" x="167" y="629" font-size="4.3" textLength="17.6" lengthAdjust="spacingAndGlyphs">D</text>
<text class="b" x="167" y="631" font-size="2.9" textLength="17.6" lengthAdjust="spacingAndGlyphs">A</text>
<text class="r" x="185" y="606" font-size="8.6" textLength="17.6" lengthAdjust="spacingAndGlyphs">R</text>
<text class="o" x="185" y="611" font-size="7.2" textLength="17.6" lengthAdjust="spacingAndGlyphs">G</text>
<text class="b" x="185" y="618" font-size="10" textLength="17.6" lengthAdjust="spacingAndGlyphs">A</text>
<text class="m" x="185" y="622" font-size="5.8" textLength="17.6" lengthAdjust="spacingAndGlyphs">E</text>
<text class="g" x="185" y="626" font-size="5.8" textLength="17.6" lengthAdjust="spacingAndGlyphs">S</text>
<text class="y" x="185" y="629" font-size="4.3" textLength="17.6" lengthAdjust="spacingAndGlyphs">P</text>
<text class="m" x="203" y="602" font-size="24.5" textLength="17.6" lengthAdjust="spacingAndGlyphs">E</text>
<text class="o" x="203" y="615" font-size="18.7" textLength="17.6" lengthAdjust="spacingAndGlyphs">G</text>
<text class="m" x="203" y="621" font-size="8.6" textLength="17.6" lengthAdjust="spacingAndGlyphs">D</text>
<text class="y" x="203" y="624" font-size="4.3" textLength="17.6" lengthAdjust="spacingAndGlyphs">P</text>
<text class="g" x="203" y="628" font-size="5.8" textLength="17.6" lengthAdjust="spacingAndGlyphs">S</text>
<text class="b" x="203" y="631" font-size="4.3" textLength="17.6" lengthAdjust="spacingAndGlyphs">A</text>
<text class="r" x="221" y="602" font-size="21.6" textLength="17.6" lengthAdjust="spacingAndGlyphs">R</text>
<text class="g" x="221" y="614" font-size="17.3" textLength="17.6" lengthAdjust="spacingAndGlyphs">S</text>
<text class="p" x="221" y="619" font-size="7.2" textLength="17.6" lengthAdjust="spacingAndGlyphs">H</text>
<text class="o" x="221" y="624" font-size="7.2" textLength="17.6" lengthAdjust="spacingAndGlyphs">G</text>
<text class="g" x="221" y="628" font-size="5.8" textLength="17.6" lengthAdjust="spacingAndGlyphs">S</text>
<text class="b" x="221" y="631" font-size="4.3" textLength="17.6" lengthAdjust="spacingAndGlyphs">A</text>
<text class="b" x="239" y="597" font-size="63.4" textLength="17.6" lengthAdjust="spacingAndGlyphs">F</text>
<text class="b" x="239" y="630" font-size="47.5" textLength="17.6" lengthAdjust="spacingAndGlyphs">L</text>
<text class="b" x="239" y="632" font-size="2.9" textLength="17.6" lengthAdjust="spacingAndGlyphs">W</text>
<text class="y" x="257" y="632" font-size="157" textLength="17.6" lengthAdjust="spacingAndGlyphs">P</text>
<text class="r" x="275" y="602" font-size="20.2" textLength="17.6" lengthAdjust="spacingAndGlyphs">R</text>
<text class="y" x="275" y="610" font-size="11.5" textLength="17.6" lengthAdjust="spacingAndGlyphs">P</text>
<text class="g" x="275" y="620" font-size="13" textLength="17.6" lengthAdjust="spacingAndGlyphs">S</text>
<text class="o" x="275" y="625" font-size="7.2" textLength="17.6" lengthAdjust="spacingAndGlyphs">G</text>
<text class="b" x="275" y="629" font-size="5.8" textLength="17.6" lengthAdjust="spacingAndGlyphs">A</text>
<text class="m" x="293" y="610" font-size="72" textLength="17.6" lengthAdjust="spacingAndGlyphs">E</text>
<text class="g" x="293" y="619" font-size="11.8" textLength="17.6" lengthAdjust="spacingAndGlyphs">Q</text>
<text class="r" x="293" y="626" font-size="8.6" textLength="17.6" lengthAdjust="spacingAndGlyphs">R</text>
<text class="r" x="293" y="629" font-size="4.3" textLength="17.6" lengthAdjust="spacingAndGlyphs">K</text>
<text class="b" x="311" y="617" font-size="99.4" textLength="17.6" lengthAdjust="spacingAndGlyphs">V</text>
<text class="b" x="311" y="627" font-size="14.4" textLength="17.6" lengthAdjust="spacingAndGlyphs">L</text>
<text class="b" x="311" y="631" font-size="5.8" textLength="17.6" lengthAdjust="spacingAndGlyphs">I</text>
<text class="g" x="329" y="600" font-size="57.6" textLength="17.6" lengthAdjust="spacingAndGlyphs">S</text>
<text class="r" x="329" y="627" font-size="38.9" textLength="17.6" lengthAdjust="spacingAndGlyphs">R</text>
<text class="b" x="329" y="630" font-size="4.3" textLength="17.6" lengthAdjust="spacingAndGlyphs">M</text>
<text class="g" x="347" y="600" font-size="43.2" textLength="17.6" lengthAdjust="spacingAndGlyphs">S</text>
<text class="b" x="347" y="617" font-size="24.5" textLength="17.6" lengthAdjust="spacingAndGlyphs">A</text>
<text class="b" x="347" y="625" font-size="11.5" textLength="17.6" lengthAdjust="spacingAndGlyphs">V</text>
<text class="m" x="347" y="629" font-size="5.8" textLength="17.6" lengthAdjust="spacingAndGlyphs">E</text>
<text class="y" x="365" y="600" font-size="18.7" textLength="17.6" lengthAdjust="spacingAndGlyphs">P</text>
<text class="m" x="365" y="617" font-size="24.5" textLength="17.6" lengthAdjust="spacingAndGlyphs">E</text>
<text class="g" x="365" y="621" font-size="5.8" textLength="17.6" lengthAdjust="spacingAndGlyphs">S</text>
<text class="g" x="365" y="624" font-size="4.3" textLength="17.6" lengthAdjust="spacingAndGlyphs">T</text>
<text class="m" x="365" y="627" font-size="4.3" textLength="17.6" lengthAdjust="spacingAndGlyphs">E</text>
<text class="o" x="365" y="630" font-size="4.3" textLength="17.6" lengthAdjust="spacingAndGlyphs">G</text>
<text class="b" x="383" y="632" font-size="157" textLength="17.6" lengthAdjust="spacingAndGlyphs">A</text>
<text class="b" x="401" y="613" font-size="87.8" textLength="17.6" lengthAdjust="spacingAndGlyphs">V</text>
<text class="b" x="401" y="627" font-size="20.2" textLength="17.6" lengthAdjust="spacingAndGlyphs">L</text>
<text class="m" x="401" y="631" font-size="5.8" textLength="17.6" lengthAdjust="spacingAndGlyphs">E</text>
<text class="b" x="419" y="632" font-size="157" textLength="17.6" lengthAdjust="spacingAndGlyphs">F</text>
<text class="r" x="437" y="615" font-size="119.5" textLength="17.6" lengthAdjust="spacingAndGlyphs">R</text>
<text class="r" x="437" y="631" font-size="23" textLength="17.6" lengthAdjust="spacingAndGlyphs">K</text>
<text class="b" x="455" y="630" font-size="146.9" textLength="17.6" lengthAdjust="spacingAndGlyphs">C</text>
<text class="b" x="473" y="623" font-size="103.7" textLength="17.6" lengthAdjust="spacingAndGlyphs">V</text>
<text class="g" x="473" y="626" font-size="4.3" textLength="17.6" lengthAdjust="spacingAndGlyphs">T</text>
<text class="b" x="473" y="631" font-size="7.2" textLength="17.6" lengthAdjust="spacingAndGlyphs">M</text>
<text class="r" x="491" y="617" font-size="121" textLength="17.6" lengthAdjust="spacingAndGlyphs">R</text>
<text class="r" x="491" y="631" font-size="20.2" textLength="17.6" lengthAdjust="spacingAndGlyphs">K</text>
<text class="b" x="509" y="605" font-size="53.3" textLength="17.6" lengthAdjust="spacingAndGlyphs">V</text>
<text class="b" x="509" y="619" font-size="20.2" textLength="17.6" lengthAdjust="spacingAndGlyphs">L</text>
<text class="b" x="509" y="625" font-size="8.6" textLength="17.6" lengthAdjust="spacingAndGlyphs">I</text>
<text class="b" x="509" y="631" font-size="8.6" textLength="17.6" lengthAdjust="spacingAndGlyphs">M</text>
<text class="g" x="527" y="593" font-size="23" textLength="17.6" lengthAdjust="spacingAndGlyphs">S</text>
<text class="o" x="527" y="617" font-size="34.6" textLength="17.6" lengthAdjust="spacingAndGlyphs">G</text>
<text class="g" x="527" y="630" font-size="18.7" textLength="17.6" lengthAdjust="spacingAndGlyphs">T</text>
<text class="g" x="545" y="600" font-size="33.1" textLength="17.6" lengthAdjust="spacingAndGlyphs">S</text>
<text class="y" x="545" y="617" font-size="24.5" textLength="17.6" lengthAdjust="spacingAndGlyphs">P</text>
<text class="b" x="545" y="627" font-size="10" textLength="17.6" lengthAdjust="spacingAndGlyphs">A</text>
<text class="o" x="545" y="631" font-size="5.8" textLength="17.6" lengthAdjust="spacingAndGlyphs">G</text>
<text class="b" x="563" y="629" font-size="113.8" textLength="17.6" lengthAdjust="spacingAndGlyphs">V</text>
<text class="g" x="563" y="631" font-size="2.9" textLength="17.6" lengthAdjust="spacingAndGlyphs">I</text>
</g>
<g class="n" transform="rotate(-90)">
<text x="-635" y="88.8">1</text><text x="-635" y="106.8">2</text><text x="-635" y="124.8">3</text><text x="-635" y="142.8">4</text><text x="-635" y="160.8">5</text><text x="-635" y="178.8">6</text><text x="-635" y="196.8">7</text><text x="-635" y="214.8">8</text><text x="-635" y="232.8">9</text><text x="-635" y="250.8">10</text><text x="-635" y="268.8">11</text><text x="-635" y="286.8">12</text><text x="-635" y="304.8">13</text><text x="-635" y="322.8">14</text><text x="-635" y="340.8">15</text><text x="-635" y="358.8">16</text><text x="-635" y="376.8">17</text><text x="-635" y="394.8">18</text><text x="-635" y="412.8">19</text><text x="-635" y="430.8">20</text><text x="-635" y="448.8">21</text><text x="-635" y="466.8">22</text><text x="-635" y="484.8">23</text><text x="-635" y="502.8">24</text><text x="-635" y="520.8">25</text><text x="-635" y="538.8">26</text><text x="-635" y="556.8">27</text><text x="-635" y="574.8">28</text>
</g>
<text class="meme" x="527" y="650" textLength="56" lengthAdjust="spacingAndGlyphs">MEME (no SSC) 04.10.2020 08:41</text>
</g>

<g id="motif5">
<text class="h" x="623" y="490" textLength="68" lengthAdjust="spacingAndGlyphs">Motif5</text>
<text x="700" y="520" font-size="25.5" fill="#4e3c8c" textLength="280" lengthAdjust="spacingAndGlyphs">GFQLWQQQPQQEAHA</text>
<path class="ax" d="M711,530V642M707,642H711M707,616.25H711M707,590.5H711M707,564.75H711M707,539H711"/>
<text class="t" x="706.5" y="645">0</text><text class="t" x="706.5" y="619">1</text><text class="t" x="706.5" y="593.5">2</text><text class="t" x="706.5" y="568">3</text><text class="t" x="706.5" y="542">4</text>
<text class="bits" transform="translate(699,585) rotate(-90)">bits</text>
<g class="L">
<text class="o" x="712" y="608" font-size="40.3" textLength="17.4" lengthAdjust="spacingAndGlyphs">G</text>
<text class="b" x="712" y="627" font-size="25.9" textLength="17.4" lengthAdjust="spacingAndGlyphs">A</text>
<text class="g" x="712" y="632" font-size="7.2" textLength="17.4" lengthAdjust="spacingAndGlyphs">T</text>
<text class="g" x="712" y="637" font-size="7.2" textLength="17.4" lengthAdjust="spacingAndGlyphs">S</text>
<text class="g" x="712" y="640" font-size="4.3" textLength="17.4" lengthAdjust="spacingAndGlyphs">N</text>
<text class="b" x="729.8" y="607" font-size="38.9" textLength="17.4" lengthAdjust="spacingAndGlyphs">F</text>
<text class="b" x="729.8" y="627" font-size="27.4" textLength="17.4" lengthAdjust="spacingAndGlyphs">L</text>
<text class="b" x="729.8" y="635" font-size="11.5" textLength="17.4" lengthAdjust="spacingAndGlyphs">I</text>
<text class="g" x="729.8" y="639" font-size="5.8" textLength="17.4" lengthAdjust="spacingAndGlyphs">S</text>
<text class="o" x="729.8" y="641" font-size="2.9" textLength="17.4" lengthAdjust="spacingAndGlyphs">G</text>
<text class="g" x="747.6" y="611" font-size="62" textLength="17.4" lengthAdjust="spacingAndGlyphs">Q</text>
<text class="p" x="747.6" y="627" font-size="17.3" textLength="17.4" lengthAdjust="spacingAndGlyphs">H</text>
<text class="m" x="747.6" y="638" font-size="15.8" textLength="17.4" lengthAdjust="spacingAndGlyphs">E</text>
<text class="g" x="747.6" y="641" font-size="4.3" textLength="17.4" lengthAdjust="spacingAndGlyphs">S</text>
<text class="b" x="765.4" y="615" font-size="66.2" textLength="17.4" lengthAdjust="spacingAndGlyphs">L</text>
<text class="b" x="765.4" y="623" font-size="11.5" textLength="17.4" lengthAdjust="spacingAndGlyphs">F</text>
<text class="b" x="765.4" y="630" font-size="10" textLength="17.4" lengthAdjust="spacingAndGlyphs">I</text>
<text class="p" x="765.4" y="635" font-size="7.2" textLength="17.4" lengthAdjust="spacingAndGlyphs">H</text>
<text class="b" x="765.4" y="642" font-size="10" textLength="17.4" lengthAdjust="spacingAndGlyphs">V</text>
<text class="b" x="783.2" y="637" font-size="125.3" textLength="17.4" lengthAdjust="spacingAndGlyphs">W</text>
<text class="b" x="783.2" y="640" font-size="4.3" textLength="17.4" lengthAdjust="spacingAndGlyphs">L</text>
<text class="g" x="801" y="612.7" font-size="66" textLength="17.4" lengthAdjust="spacingAndGlyphs">Q</text>
<text class="y" x="801" y="630" font-size="17.3" textLength="17.4" lengthAdjust="spacingAndGlyphs">P</text>
<text class="p" x="801" y="638" font-size="11.5" textLength="17.4" lengthAdjust="spacingAndGlyphs">H</text>
<text class="g" x="818.8" y="611.5" font-size="21" textLength="17.4" lengthAdjust="spacingAndGlyphs">Q</text>
<text class="y" x="818.8" y="628" font-size="21.6" textLength="17.4" lengthAdjust="spacingAndGlyphs">P</text>
<text class="g" x="818.8" y="632" font-size="5.8" textLength="17.4" lengthAdjust="spacingAndGlyphs">S</text>
<text class="y" x="818.8" y="636" font-size="5.8" textLength="17.4" lengthAdjust="spacingAndGlyphs">P</text>
<text class="b" x="818.8" y="640" font-size="5.8" textLength="17.4" lengthAdjust="spacingAndGlyphs">I</text>
<text class="g" x="836.6" y="599.7" font-size="35.6" textLength="17.4" lengthAdjust="spacingAndGlyphs">Q</text>
<text class="p" x="836.6" y="625" font-size="33.1" textLength="17.4" lengthAdjust="spacingAndGlyphs">H</text>
<text class="y" x="836.6" y="633" font-size="11.5" textLength="17.4" lengthAdjust="spacingAndGlyphs">P</text>
<text class="g" x="836.6" y="637" font-size="5.8" textLength="17.4" lengthAdjust="spacingAndGlyphs">T</text>
<text class="y" x="854.4" y="607" font-size="28.8" textLength="17.4" lengthAdjust="spacingAndGlyphs">P</text>
<text class="g" x="854.4" y="622" font-size="17" textLength="17.4" lengthAdjust="spacingAndGlyphs">Q</text>
<text class="g" x="854.4" y="628" font-size="7.2" textLength="17.4" lengthAdjust="spacingAndGlyphs">N</text>
<text class="m" x="854.4" y="633" font-size="7.2" textLength="17.4" lengthAdjust="spacingAndGlyphs">E</text>
<text class="g" x="854.4" y="637" font-size="5.8" textLength="17.4" lengthAdjust="spacingAndGlyphs">S</text>
<text class="g" x="872.2" y="617" font-size="14.5" textLength="17.4" lengthAdjust="spacingAndGlyphs">Q</text>
<text class="b" x="872.2" y="623" font-size="7.2" textLength="17.4" lengthAdjust="spacingAndGlyphs">L</text>
<text class="b" x="872.2" y="628" font-size="7.2" textLength="17.4" lengthAdjust="spacingAndGlyphs">A</text>
<text class="b" x="872.2" y="632" font-size="5.8" textLength="17.4" lengthAdjust="spacingAndGlyphs">I</text>
<text class="m" x="872.2" y="636" font-size="5.8" textLength="17.4" lengthAdjust="spacingAndGlyphs">E</text>
<text class="g" x="890" y="614" font-size="17" textLength="17.4" lengthAdjust="spacingAndGlyphs">Q</text>
<text class="b" x="890" y="623" font-size="8.6" textLength="17.4" lengthAdjust="spacingAndGlyphs">V</text>
<text class="y" x="890" y="627" font-size="5.8" textLength="17.4" lengthAdjust="spacingAndGlyphs">P</text>
<text class="b" x="890" y="632" font-size="7.2" textLength="17.4" lengthAdjust="spacingAndGlyphs">A</text>
<text class="m" x="890" y="636" font-size="5.8" textLength="17.4" lengthAdjust="spacingAndGlyphs">E</text>
<text class="y" x="907.8" y="608" font-size="11.5" textLength="17.4" lengthAdjust="spacingAndGlyphs">P</text>
<text class="b" x="907.8" y="614" font-size="8.6" textLength="17.4" lengthAdjust="spacingAndGlyphs">L</text>
<text class="m" x="907.8" y="622" font-size="11.5" textLength="17.4" lengthAdjust="spacingAndGlyphs">E</text>
<text class="g" x="907.8" y="628" font-size="7.2" textLength="17.4" lengthAdjust="spacingAndGlyphs">Q</text>
<text class="b" x="907.8" y="635" font-size="8.6" textLength="17.4" lengthAdjust="spacingAndGlyphs">A</text>
<text class="m" x="907.8" y="638" font-size="4.3" textLength="17.4" lengthAdjust="spacingAndGlyphs">E</text>
<text class="b" x="925.6" y="614" font-size="15.8" textLength="17.4" lengthAdjust="spacingAndGlyphs">A</text>
<text class="p" x="925.6" y="620" font-size="8.6" textLength="17.4" lengthAdjust="spacingAndGlyphs">H</text>
<text class="g" x="925.6" y="627" font-size="7.2" textLength="17.4" lengthAdjust="spacingAndGlyphs">S</text>
<text class="b" x="925.6" y="631" font-size="5.8" textLength="17.4" lengthAdjust="spacingAndGlyphs">A</text>
<text class="b" x="925.6" y="636" font-size="7.2" textLength="17.4" lengthAdjust="spacingAndGlyphs">I</text>
<text class="p" x="943.4" y="620" font-size="7.2" textLength="17.4" lengthAdjust="spacingAndGlyphs">H</text>
<text class="b" x="943.4" y="627" font-size="7.2" textLength="17.4" lengthAdjust="spacingAndGlyphs">A</text>
<text class="b" x="943.4" y="633" font-size="7.2" textLength="17.4" lengthAdjust="spacingAndGlyphs">M</text>
<text class="m" x="943.4" y="636" font-size="4.3" textLength="17.4" lengthAdjust="spacingAndGlyphs">E</text>
<text class="b" x="961.2" y="614" font-size="17.3" textLength="17.4" lengthAdjust="spacingAndGlyphs">A</text>
<text class="p" x="961.2" y="620" font-size="8.6" textLength="17.4" lengthAdjust="spacingAndGlyphs">H</text>
<text class="y" x="961.2" y="627" font-size="7.2" textLength="17.4" lengthAdjust="spacingAndGlyphs">P</text>
<text class="r" x="961.2" y="631" font-size="5.8" textLength="17.4" lengthAdjust="spacingAndGlyphs">K</text>
<text class="g" x="961.2" y="635" font-size="5.8" textLength="17.4" lengthAdjust="spacingAndGlyphs">S</text>
</g>
<g class="n" transform="rotate(-90)">
<text x="-645" y="723.7">1</text><text x="-645" y="741.5">2</text><text x="-645" y="759.3">3</text><text x="-645" y="777.1">4</text><text x="-645" y="794.9">5</text><text x="-645" y="812.7">6</text><text x="-645" y="830.5">7</text><text x="-645" y="848.3">8</text><text x="-645" y="866.1">9</text><text x="-645" y="883.9">10</text><text x="-645" y="901.7">11</text><text x="-645" y="919.5">12</text><text x="-645" y="937.3">13</text><text x="-645" y="955.1">14</text><text x="-645" y="972.9">15</text>
</g>
<text class="meme" x="928" y="658" textLength="55" lengthAdjust="spacingAndGlyphs">MEME (no SSC) 04.10.2020 08:46</text>
</g>
</svg>
